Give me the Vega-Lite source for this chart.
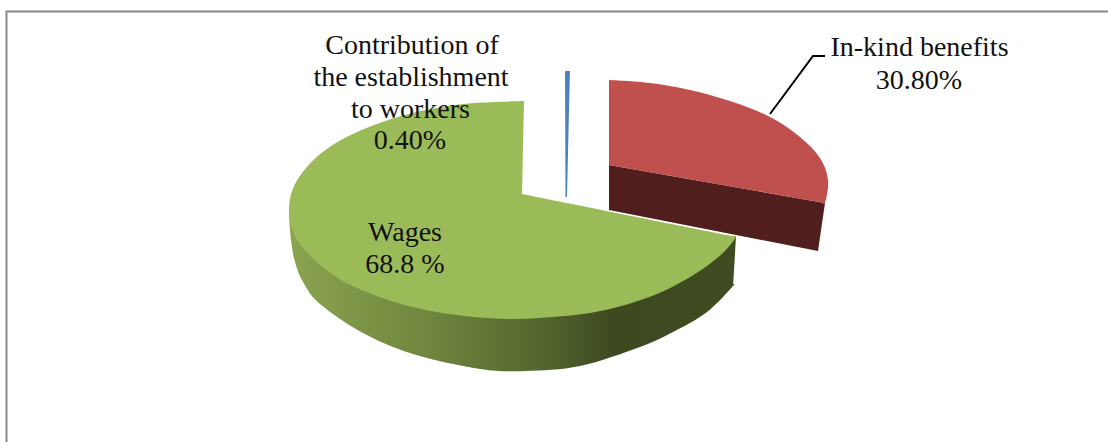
{
"$schema":"https://vega.github.io/schema/vega-lite/v6.json",
"width":1108,"height":442,"padding":0,"autosize":{"type":"none"},
"background":"white",
"view":{"stroke":null},
"datasets":{
"outline":[
{"s":"side","i":1,"x":289,"y":213},{"s":"side","i":2,"x":291,"y":240},{"s":"side","i":3,"x":295,"y":262},{"s":"side","i":4,"x":303,"y":282},{"s":"side","i":5,"x":320,"y":304},{"s":"side","i":6,"x":363,"y":333},{"s":"side","i":7,"x":413,"y":354},{"s":"side","i":8,"x":480,"y":369},{"s":"side","i":9,"x":525,"y":371},{"s":"side","i":10,"x":580,"y":366},{"s":"side","i":11,"x":640,"y":347},{"s":"side","i":12,"x":673,"y":332},{"s":"side","i":13,"x":707,"y":312},{"s":"side","i":14,"x":733,"y":286},{"s":"side","i":15,"x":733.2,"y":283.6},{"s":"side","i":16,"x":733.8,"y":273.8},{"s":"side","i":17,"x":736,"y":237},
{"s":"top","i":1,"x":524,"y":101},{"s":"top","i":2,"x":474,"y":103},{"s":"top","i":3,"x":436,"y":108},{"s":"top","i":4,"x":401,"y":116},{"s":"top","i":5,"x":369,"y":127},{"s":"top","i":6,"x":341,"y":140},{"s":"top","i":7,"x":319,"y":155},{"s":"top","i":8,"x":302,"y":173},{"s":"top","i":9,"x":292,"y":191},{"s":"top","i":10,"x":289,"y":210},{"s":"top","i":11,"x":292,"y":229},{"s":"top","i":12,"x":302,"y":247},{"s":"top","i":13,"x":319,"y":264},{"s":"top","i":14,"x":341,"y":280},{"s":"top","i":15,"x":369,"y":293},{"s":"top","i":16,"x":401,"y":304},{"s":"top","i":17,"x":436,"y":312},{"s":"top","i":18,"x":474,"y":317},{"s":"top","i":19,"x":513,"y":319},{"s":"top","i":20,"x":552,"y":317},{"s":"top","i":21,"x":590,"y":313},{"s":"top","i":22,"x":625,"y":305},{"s":"top","i":23,"x":657,"y":294},{"s":"top","i":24,"x":685,"y":280},{"s":"top","i":25,"x":707,"y":266},{"s":"top","i":26,"x":725,"y":251},{"s":"top","i":27,"x":736,"y":237},{"s":"top","i":28,"x":731.7,"y":236.1},{"s":"top","i":29,"x":718.9,"y":233.6},{"s":"top","i":30,"x":671.8,"y":224.1},{"s":"top","i":31,"x":522,"y":194},
{"s":"redSide","i":1,"x":609,"y":165},{"s":"redSide","i":2,"x":825,"y":203},{"s":"redSide","i":3,"x":818,"y":251},{"s":"redSide","i":4,"x":609,"y":210},
{"s":"redTop","i":1,"x":609,"y":80},{"s":"redTop","i":2,"x":650,"y":83},{"s":"redTop","i":3,"x":690,"y":90},{"s":"redTop","i":4,"x":733,"y":102},{"s":"redTop","i":5,"x":770,"y":117},{"s":"redTop","i":6,"x":800,"y":137},{"s":"redTop","i":7,"x":820,"y":158},{"s":"redTop","i":8,"x":828,"y":180},{"s":"redTop","i":9,"x":825,"y":203},{"s":"redTop","i":10,"x":820.7,"y":202.2},{"s":"redTop","i":11,"x":807.7,"y":200},{"s":"redTop","i":12,"x":760.2,"y":191.6},{"s":"redTop","i":13,"x":609,"y":165},
{"s":"blue","i":1,"x":565,"y":71},{"s":"blue","i":2,"x":570,"y":71},{"s":"blue","i":3,"x":569,"y":110},{"s":"blue","i":4,"x":567,"y":197},{"s":"blue","i":5,"x":565.5,"y":197},
{"s":"leader","i":1,"x":770,"y":114},{"s":"leader","i":2,"x":813,"y":56},{"s":"leader","i":3,"x":825,"y":56},
{"s":"frame","i":1,"x":6.5,"y":442},{"s":"frame","i":2,"x":6.5,"y":11.5},{"s":"frame","i":3,"x":1108,"y":11.5}
],
"labels":[
{"t":"Contribution of","x":412,"y":54},{"t":"the establishment","x":411,"y":86},{"t":"to workers","x":410.5,"y":118},{"t":"0.40%","x":410,"y":149},
{"t":"Wages","x":405,"y":241},{"t":"68.8 %","x":405,"y":273},
{"t":"In-kind benefits","x":919.5,"y":56},{"t":"30.80%","x":919,"y":89}
]
},
"data":{"name":"outline"},
"encoding":{
"x":{"field":"x","type":"quantitative","scale":{"domain":[0,1108],"nice":false,"zero":false},"axis":null},
"y":{"field":"y","type":"quantitative","scale":{"domain":[442,0],"nice":false,"zero":false},"axis":null},
"order":{"field":"i","type":"quantitative"}
},
"layer":[
{"transform":[{"filter":"datum.s==='frame'"}],"mark":{"type":"line","stroke":"#888888","strokeWidth":2,"clip":false}},
{"transform":[{"filter":"datum.s==='side'"}],"mark":{"type":"line","interpolate":"cardinal","strokeWidth":0,"fill":{"gradient":"linear","x1":0,"y1":0,"x2":1,"y2":0,"stops":[{"offset":0,"color":"#8ba44f"},{"offset":0.3,"color":"#71873f"},{"offset":0.55,"color":"#56682f"},{"offset":0.72,"color":"#3d4a20"},{"offset":1,"color":"#3f4b20"}]}}},
{"transform":[{"filter":"datum.s==='redSide'"}],"mark":{"type":"line","strokeWidth":0,"fill":"#4f1e1d"}},
{"transform":[{"filter":"datum.s==='redTop'"}],"mark":{"type":"line","interpolate":"cardinal","strokeWidth":0,"fill":"#c0504d"}},
{"transform":[{"filter":"datum.s==='top'"}],"mark":{"type":"line","interpolate":"cardinal","strokeWidth":0,"fill":"#9bbb59"}},
{"transform":[{"filter":"datum.s==='blue'"}],"mark":{"type":"line","strokeWidth":0,"fill":"#4f81bd"}},
{"transform":[{"filter":"datum.s==='leader'"}],"mark":{"type":"line","stroke":"#000000","strokeWidth":2}},
{"data":{"name":"labels"},"mark":{"type":"text","font":"Liberation Serif","fontSize":28,"color":"#111111","align":"center","baseline":"alphabetic"},"encoding":{"text":{"field":"t"},"order":{"value":null}}}
]
}
